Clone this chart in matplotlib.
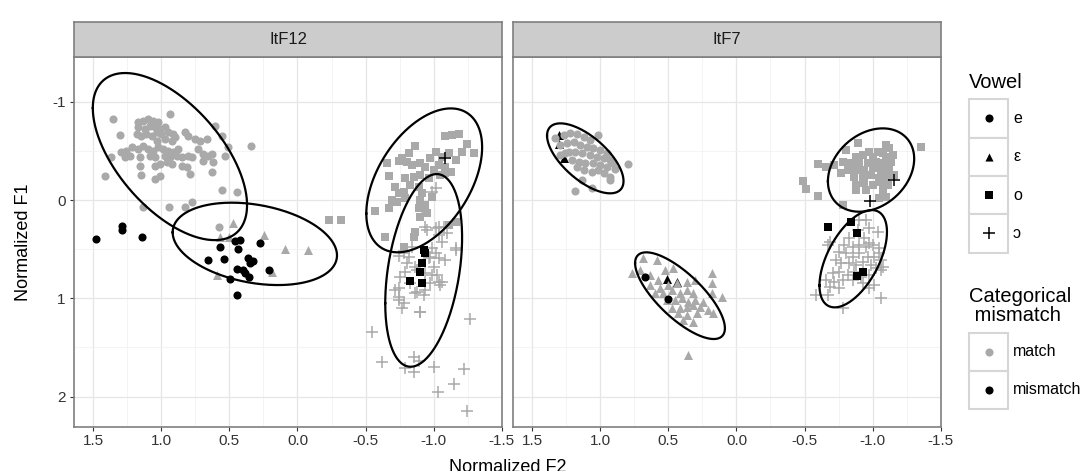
import numpy as np
import matplotlib
matplotlib.use('Agg')
import matplotlib.pyplot as plt
from matplotlib.patches import Rectangle

plt.rcParams['font.family'] = ['Liberation Sans', 'DejaVu Sans']
plt.rcParams['axes.unicode_minus'] = False

# ---------------- data ----------------
panels = ['ItF12', 'ItF7']
vowel_labels = ['e', 'ε', 'o', 'ɔ']
mismatch_labels = ['match', 'mismatch']
x_ticks = [1.5, 1.0, 0.5, 0.0, -0.5, -1.0, -1.5]
x_ticklabels = ['1.5', '1.0', '0.5', '0.0', '-0.5', '-1.0', '-1.5']
y_ticks = [-1, 0, 1, 2]
y_ticklabels = ['-1', '0', '1', '2']

# (Normalized F2, Normalized F1) pairs
itf12_e_match = [(1.353,-0.824),(0.936,-0.875),(1.304,-0.661),(1.169,-0.790),(1.132,-0.807),(1.096,-0.824),
    (1.059,-0.807),(1.022,-0.790),(1.169,-0.739),(1.120,-0.722),(1.083,-0.756),(1.047,-0.739),(1.010,-0.722),
    (0.973,-0.739),(1.181,-0.671),(1.145,-0.654),(1.108,-0.671),(1.071,-0.654),(1.034,-0.688),(0.998,-0.671),
    (0.949,-0.688),(0.912,-0.671),(0.900,-0.637),(0.826,-0.688),(0.801,-0.654),(0.752,-0.620),(0.716,-0.603),
    (0.667,-0.620),(0.605,-0.756),(0.556,-0.654),(0.507,-0.536),(0.343,-0.546),(1.218,-0.536),(1.169,-0.519),
    (1.132,-0.553),(1.096,-0.519),(1.059,-0.502),(1.022,-0.536),(0.985,-0.519),(0.949,-0.502),(0.912,-0.485),
    (0.875,-0.519),(1.292,-0.485),(1.255,-0.502),(1.370,-0.434),(1.267,-0.434),(1.230,-0.451),(1.157,-0.434),
    (1.083,-0.451),(1.047,-0.434),(0.973,-0.451),(0.936,-0.434),(0.887,-0.451),(0.850,-0.434),(0.801,-0.451),
    (0.777,-0.434),(0.728,-0.519),(0.691,-0.468),(0.654,-0.451),(0.630,-0.468),(0.691,-0.400),(0.618,-0.383),
    (0.532,-0.444),(1.157,-0.349),(1.047,-0.349),(1.010,-0.366),(0.961,-0.383),(0.924,-0.366),(0.850,-0.349),
    (0.814,-0.332),(0.789,-0.264),(0.630,-0.288),(1.414,-0.241),(1.145,-0.254),(1.047,-0.214),(1.010,-0.241),
    (0.556,-0.105),(0.446,-0.085),(0.973,-0.620),(0.924,-0.603),(1.034,-0.603),(1.132,0.074),(0.941,0.074),
    (0.826,0.068),(0.776,0.017),(0.574,0.271)]
itf12_e_mismatch = [(1.480,0.397),(1.291,0.264),(1.291,0.305),(1.144,0.373),(0.568,0.481),(0.458,0.414),
    (0.421,0.407),(0.434,0.502),(0.274,0.434),(0.654,0.610),(0.539,0.603),(0.360,0.593),(0.324,0.617),
    (0.348,0.644),(0.446,0.702),(0.401,0.712),(0.385,0.746),(0.353,0.786),(0.206,0.712),(0.495,0.807),
    (0.441,0.970)]
itf12_eps_match = [(0.475,0.231),(0.568,0.373),(0.500,0.373),(0.245,0.356),(0.090,0.502),(-0.074,0.509),
    (0.593,0.763),(0.188,0.729)]
itf12_eps_mismatch = []
itf12_o_match = [(-1.086,-0.651),(-1.135,-0.661),(-1.184,-0.671),(-1.246,-0.570),(-1.294,-0.475),(-1.209,-0.491),
    (-1.160,-0.407),(-1.110,-0.475),(-1.061,-0.441),(-1.013,-0.491),(-0.976,-0.424),(-0.865,-0.549),(-0.816,-0.475),
    (-0.768,-0.424),(-0.743,-0.400),(-0.804,-0.390),(-0.841,-0.356),(-0.902,-0.373),(-0.939,-0.339),(-1.000,-0.305),
    (-1.037,-0.356),(-1.086,-0.339),(-1.123,-0.288),(-0.657,-0.373),(-0.669,-0.244),(-0.792,-0.221),(-0.853,-0.237),
    (-0.902,-0.254),(-0.963,-0.221),(-1.049,-0.254),(-1.086,-0.271),(-0.718,-0.135),(-0.743,-0.068),(-0.779,-0.084),
    (-0.829,-0.153),(-0.890,-0.135),(-0.915,-0.068),(-0.988,-0.034),(-0.694,0.000),(-0.731,0.017),(-0.792,-0.017),
    (-0.902,0.000),(-0.939,0.051),(-0.669,0.084),(-0.571,0.109),(-0.890,0.084),(-0.902,0.170),(-0.951,0.135),
    (-0.645,0.373),(-0.865,0.322),(-0.853,0.373),(-1.160,0.221),(-1.110,0.254),(-0.228,0.203),(-0.319,0.203),
    (-0.779,0.475)]
itf12_o_mismatch = [(-0.926,0.509),(-0.939,0.542),(-0.915,0.638),(-0.902,0.729),(-0.829,0.824),(-0.915,0.841)]
itf12_oo_match = [(-1.013,-0.119),(-0.988,-0.084),(-0.915,0.084),(-0.939,0.271),(-1.013,0.288),(-1.074,0.271),
    (-1.037,0.356),(-1.061,0.424),(-1.160,0.492),(-0.988,0.492),(-0.841,0.475),(-0.743,0.570),(-0.816,0.576),
    (-0.976,0.576),(-1.037,0.593),(-1.086,0.610),(-0.865,0.678),(-1.000,0.678),(-0.792,0.729),(-0.939,0.746),
    (-1.025,0.763),(-0.755,0.780),(-1.061,0.831),(-0.976,0.847),(-0.743,0.898),(-0.877,0.933),(-0.939,0.916),
    (-0.743,0.983),(-0.779,1.051),(-0.768,1.102),(-0.865,0.949),(-0.926,0.966),(-1.049,0.865),(-0.902,1.143),
    (-1.265,1.214),(-0.547,1.340),(-0.621,1.645),(-0.853,1.601),(-0.890,1.635),(-0.787,1.713),(-0.853,1.747),
    (-1.000,1.702),(-1.221,1.723),(-1.147,1.875),(-1.032,1.950),(-1.245,2.143),(-0.951,0.305),(-1.037,0.271),
    (-1.098,0.339),(-1.160,0.509),(-1.013,0.542),(-0.963,0.593),(-0.779,0.542),(-0.804,0.644),(-0.878,0.712),
    (-0.988,0.763),(-1.037,0.831),(-0.829,0.847),(-0.718,0.916),(-0.743,1.017),(-0.902,1.136)]
itf12_oo_mismatch = [(-1.086,-0.424)]

itf7_e_match = [(1.331,-0.628),(1.270,-0.661),(1.221,-0.678),(1.172,-0.671),(1.124,-0.644),(1.075,-0.610),
    (1.014,-0.661),(1.294,-0.560),(1.245,-0.576),(1.197,-0.593),(1.148,-0.560),(1.099,-0.542),(1.051,-0.526),
    (1.001,-0.509),(0.952,-0.475),(1.234,-0.491),(1.185,-0.491),(1.136,-0.475),(1.075,-0.458),(1.026,-0.441),
    (0.977,-0.424),(0.928,-0.407),(1.209,-0.407),(1.160,-0.390),(1.111,-0.373),(1.051,-0.373),(1.001,-0.356),
    (0.952,-0.339),(0.904,-0.373),(0.794,-0.366),(1.124,-0.305),(1.062,-0.288),(1.014,-0.305),(0.892,-0.312),
    (0.928,-0.237),(0.928,-0.203),(1.136,-0.203),(1.062,-0.119),(1.185,-0.092),(1.294,-0.458),(1.258,-0.475),
    (0.977,-0.271),(1.172,-0.339)]
itf7_e_mismatch = [(0.672,0.780),(0.506,1.010)]
itf7_eps_match = [(0.684,0.593),(0.586,0.610),(0.769,0.746),(0.708,0.712),(0.635,0.763),(0.525,0.712),
    (0.464,0.695),(0.574,0.814),(0.635,0.865),(0.562,0.898),(0.501,0.865),(0.440,0.847),(0.366,0.831),
    (0.305,0.814),(0.183,0.746),(0.183,0.847),(0.599,0.949),(0.538,0.949),(0.476,0.916),(0.415,0.949),
    (0.366,0.916),(0.318,0.949),(0.513,1.017),(0.452,1.017),(0.403,1.000),(0.355,1.034),(0.305,1.017),
    (0.245,1.034),(0.183,0.949),(0.103,0.983),(0.476,1.102),(0.415,1.102),(0.366,1.085),(0.318,1.068),
    (0.269,1.085),(0.428,1.153),(0.366,1.170),(0.293,1.153),(0.208,1.119),(0.171,1.153),(0.318,1.238),
    (0.391,1.221),(0.359,1.577)]
itf7_eps_mismatch = [(1.307,-0.661),(1.307,-0.570),(1.265,-0.424),(0.513,0.807),(0.440,0.831)]
itf7_o_match = [(-0.488,-0.197),(-0.513,-0.109),(-0.598,-0.041),(-0.598,-0.366),(-0.659,-0.339),(-1.355,-0.536),
    (-0.781,0.051),(-0.891,-0.576),(-0.806,-0.509),(-1.099,-0.560),(-1.123,-0.526),(-0.977,-0.491),(-1.037,-0.491),
    (-1.074,-0.475),(-0.879,-0.441),(-0.927,-0.458),(-1.001,-0.441),(-1.099,-0.441),(-1.147,-0.458),(-0.781,-0.390),
    (-0.842,-0.373),(-0.903,-0.390),(-0.964,-0.373),(-1.026,-0.390),(-1.086,-0.373),(-1.136,-0.390),(-0.720,-0.356),
    (-0.818,-0.305),(-0.879,-0.305),(-0.940,-0.305),(-1.001,-0.322),(-1.062,-0.305),(-1.123,-0.305),(-0.769,-0.271),
    (-0.867,-0.237),(-0.927,-0.237),(-0.989,-0.254),(-1.050,-0.221),(-1.099,-0.237),(-1.160,-0.254),(-0.879,-0.153),
    (-0.940,-0.170),(-1.001,-0.153),(-1.062,-0.186),(-1.111,-0.153),(-0.879,-0.102),(-0.952,-0.102),(-1.074,-0.102),
    (-1.099,-0.034),(-1.050,-0.017)]
itf7_o_mismatch = [(-0.671,0.271),(-0.842,0.221),(-0.884,0.339),(-0.933,0.729),(-0.884,0.773)]
itf7_oo_match = [(-0.903,0.203),(-0.952,0.203),(-0.891,0.305),(-0.977,0.288),(-1.037,0.322),(-0.940,0.390),
    (-0.977,0.441),(-0.830,0.390),(-0.793,0.458),(-0.854,0.475),(-0.903,0.458),(-0.952,0.475),(-1.001,0.458),
    (-1.050,0.492),(-0.671,0.458),(-0.757,0.526),(-0.806,0.542),(-0.854,0.576),(-0.903,0.542),(-0.964,0.576),
    (-1.013,0.576),(-1.050,0.542),(-1.062,0.610),(-0.733,0.610),(-0.769,0.644),(-0.830,0.644),(-0.879,0.661),
    (-0.927,0.627),(-0.989,0.661),(-1.026,0.695),(-1.074,0.678),(-0.708,0.746),(-0.757,0.729),(-0.818,0.763),
    (-0.867,0.729),(-0.916,0.780),(-0.977,0.763),(-0.659,0.814),(-0.720,0.831),(-0.781,0.814),(-0.854,0.814),
    (-0.927,0.847),(-0.684,0.882),(-0.757,0.898),(-0.977,0.898),(-1.013,0.865),(-0.671,0.966),(-1.062,1.000),
    (-0.781,1.102),(-0.586,0.966),(-0.684,0.424),(-1.062,0.712)]
itf7_oo_mismatch = [(-1.160,-0.203),(-0.984,0.010)]

# stat_ellipse outlines: (centre F2, centre F1, half-width F2, half-height F1, correlation)
itf12_ellipses = [(0.936,-0.442,0.566,0.850,-0.58),(0.313,0.446,0.603,0.419,-0.28),
                  (-0.930,-0.200,0.425,0.732,0.46),(-0.926,0.716,0.282,0.980,0.34)]
itf7_ellipses = [(1.111,-0.424,0.281,0.356,-0.65),(0.415,0.973,0.330,0.441,-0.75),
                 (-0.989,-0.305,0.317,0.424,0.27),(-0.858,0.597,0.248,0.495,0.55)]

# ---------------- style ----------------
W, H = 1084, 471
GRAY = '#a9a9a9'
BLACK = '#000000'
BORDER = '#7f7f7f'
markers = {'e': 'o', 'ε': '^', 'o': 's', 'ɔ': '+'}
msize = {'e': 34, 'ε': 42, 'o': 34, 'ɔ': 70}

fig = plt.figure(figsize=(W / 100, H / 100), dpi=100)

def fx(px):
    return px / W

def fy(py):
    return 1 - py / H

panel_top, panel_bot = 56.7, 427.3
strip_top = 22.0
panel_x = [(74.0, 502.3), (513.3, 941.0)]
xlim = (1.64, -1.503)
ylim = (2.312, -1.458)

panel_data = [
    (itf12_e_match, itf12_e_mismatch, itf12_eps_match, itf12_eps_mismatch, itf12_o_match,
     itf12_o_mismatch, itf12_oo_match, itf12_oo_mismatch, itf12_ellipses),
    (itf7_e_match, itf7_e_mismatch, itf7_eps_match, itf7_eps_mismatch, itf7_o_match,
     itf7_o_mismatch, itf7_oo_match, itf7_oo_mismatch, itf7_ellipses),
]

def pts(ax, data, vowel, color, z):
    if not data:
        return
    a = np.array(data)
    if markers[vowel] == '+':
        ax.scatter(a[:, 0], a[:, 1], marker='+', s=msize[vowel], c=color, linewidths=1.1, zorder=z)
    else:
        ax.scatter(a[:, 0], a[:, 1], marker=markers[vowel], s=msize[vowel], c=color, linewidths=0, zorder=z)

def ellipse(ax, cx, cy, hw, hh, rho):
    t = np.linspace(0, 2 * np.pi, 300)
    phi = np.arccos(rho)
    ax.plot(cx + hw * np.cos(t), cy + hh * np.cos(t - phi), color='black', lw=1.6, zorder=6)

for i, (name, (x0, x1)) in enumerate(zip(panels, panel_x)):
    ax = fig.add_axes([fx(x0), fy(panel_bot), fx(x1 - x0), (panel_bot - panel_top) / H])
    ax.set_xlim(*xlim)
    ax.set_ylim(*ylim)
    ax.set_xticks(x_ticks)
    ax.set_xticklabels(x_ticklabels)
    ax.set_xticks([1.25, 0.75, 0.25, -0.25, -0.75, -1.25], minor=True)
    ax.set_yticks(y_ticks)
    ax.set_yticks([-0.5, 0.5, 1.5], minor=True)
    if i == 0:
        ax.set_yticklabels(y_ticklabels)
        ax.tick_params(axis='y', which='major', length=3, width=0.8, color='#333333',
                       labelsize=11, labelcolor='#333333', pad=3)
    else:
        ax.set_yticklabels([])
        ax.tick_params(axis='y', which='major', length=0)
    ax.tick_params(axis='x', which='major', length=3, width=0.8, color='#333333',
                   labelsize=11, labelcolor='#333333', pad=2)
    ax.tick_params(which='minor', length=0)
    ax.grid(which='major', color='#e6e6e6', lw=0.9, zorder=0)
    ax.grid(which='minor', color='#f2f2f2', lw=0.6, zorder=0)
    ax.set_axisbelow(True)
    for s in ax.spines.values():
        s.set_color(BORDER)
        s.set_linewidth(1.2)

    (e_m, e_x, eps_m, eps_x, o_m, o_x, oo_m, oo_x, ells) = panel_data[i]
    pts(ax, eps_x, 'ε', BLACK, 2)
    pts(ax, e_m, 'e', GRAY, 3)
    pts(ax, eps_m, 'ε', GRAY, 3)
    pts(ax, o_m, 'o', GRAY, 3)
    pts(ax, oo_m, 'ɔ', GRAY, 3)
    pts(ax, e_x, 'e', BLACK, 4)
    pts(ax, o_x, 'o', BLACK, 4)
    pts(ax, oo_x, 'ɔ', BLACK, 4)
    for el in ells:
        ellipse(ax, *el)

    sx = fig.add_axes([fx(x0), fy(panel_top), fx(x1 - x0), (panel_top - strip_top) / H])
    sx.set_facecolor('#cccccc')
    sx.set_xticks([])
    sx.set_yticks([])
    for s in sx.spines.values():
        s.set_color(BORDER)
        s.set_linewidth(1.2)
    sx.text(0.5, 0.5, name, ha='center', va='center', fontsize=12, color='#1a1a1a',
            transform=sx.transAxes)

# overlay for titles and legend (pixel coordinates)
ov = fig.add_axes([0, 0, 1, 1], zorder=10)
ov.set_xlim(0, W)
ov.set_ylim(H, 0)
ov.axis('off')
ov.patch.set_alpha(0)

ov.text(24, (panel_top + panel_bot) / 2, 'Normalized F1', rotation=90, ha='center', va='center',
        fontsize=13, color='black')
ov.text((74 + 941) / 2, 467, 'Normalized F2', ha='center', va='center', fontsize=13, color='black')

# Vowel legend
kx0, kx1 = 969, 1008
ov.text(969, 83, 'Vowel', ha='left', va='center', fontsize=14.5, color='black')
rows = [99, 137.5, 176, 214, 252.5]
for j, v in enumerate(vowel_labels):
    y0, y1 = rows[j], rows[j + 1]
    ov.add_patch(Rectangle((kx0, y0), kx1 - kx0, y1 - y0, facecolor='white', edgecolor='#d6d6d6', lw=1.5))
    yc = (y0 + y1) / 2
    if markers[v] == '+':
        ov.scatter([(kx0 + kx1) / 2], [yc], marker='+', s=70, c='black', linewidths=1.1)
    else:
        ov.scatter([(kx0 + kx1) / 2], [yc], marker=markers[v], s=34, c='black', linewidths=0)
    ov.text(1013, yc, v, ha='left', va='center', fontsize=11.5, color='black')

ov.text(969, 306, 'Categorical\n mismatch', ha='left', va='center', fontsize=14.5, color='black',
        linespacing=0.95)
rows2 = [333, 371, 409]
for j, (lab, col) in enumerate(zip(mismatch_labels, [GRAY, BLACK])):
    y0, y1 = rows2[j], rows2[j + 1]
    ov.add_patch(Rectangle((kx0, y0), kx1 - kx0, y1 - y0, facecolor='white', edgecolor='#d6d6d6', lw=1.5))
    yc = (y0 + y1) / 2
    ov.scatter([(kx0 + kx1) / 2], [yc], marker='o', s=34, c=col, linewidths=0)
    ov.text(1013, yc, lab, ha='left', va='center', fontsize=11.5, color='black')

fig.savefig('out.png', dpi=100)
